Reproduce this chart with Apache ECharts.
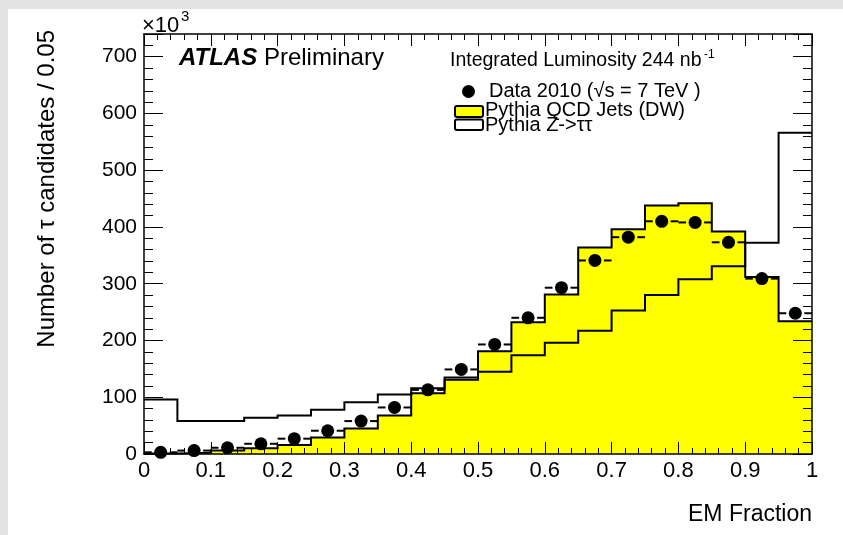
<!DOCTYPE html>
<html>
<head>
<meta charset="utf-8">
<script src="https://cdn.jsdelivr.net/npm/echarts@6/dist/echarts.min.js"></script>
<style>
  html, body { margin: 0; padding: 0; background: #fff; }
  #chart { width: 843px; height: 535px; }
</style>
</head>
<body>
<div id="chart"></div>
<script>
// EM fraction histogram, 20 bins of width 0.05 (counts in units of 10^3)
const binEdges = [0, 0.05, 0.1, 0.15, 0.2, 0.25, 0.3, 0.35, 0.4, 0.45, 0.5,
                  0.55, 0.6, 0.65, 0.7, 0.75, 0.8, 0.85, 0.9, 0.95, 1]
const dataCounts = [3, 6, 11, 18, 27, 41, 58, 82, 113, 149,
                    193, 240, 293, 341, 382, 410, 408, 373, 309, 248]
const qcdCounts = [1, 2, 6, 10, 16, 29, 45, 68, 107, 131,
                   181, 232, 281, 364, 396, 438, 442, 392, 312, 234]
const ztautauCounts = [96, 58, 58, 64, 68, 78, 91, 105, 116, 135,
                       145, 174, 196, 217, 253, 280, 308, 331, 372, 566]

const FONT = '"Liberation Sans", Arial, Helvetica, sans-serif'

// step points: value of bin i starts at its low edge, last bin closed at x = 1
function stepPoints(counts) {
    return binEdges.map((e, i) => [e, counts[Math.min(i, counts.length - 1)]])
}

function label(x, y, text, size, extra) {
    return {
        type: 'text', x: x, y: y,
        style: Object.assign({ text: text, fontSize: size, fontFamily: FONT, fill: '#000',
                               align: 'left', verticalAlign: 'middle' }, extra || {})
    }
}

const axisLineStyle = { color: '#000', width: 1.5 }

let chart = echarts.init(document.getElementById('chart'))
chart.setOption({
    animation: false,
    backgroundColor: '#e3e3e3',
    grid: { left: 144, right: 31, top: 34, bottom: 81 },
    xAxis: [
        {
            type: 'value', min: 0, max: 1, interval: 0.1, position: 'bottom', z: 10,
            axisLine: { show: true, onZero: false, lineStyle: axisLineStyle },
            axisTick: { show: true, inside: true, length: 12, lineStyle: { color: '#000', width: 1 } },
            minorTick: { show: true, splitNumber: 5, length: 6, lineStyle: { color: '#000', width: 1 } },
            splitLine: { show: false },
            axisLabel: { show: true, margin: 6, fontSize: 22, fontFamily: FONT, color: '#000',
                         showMinLabel: true, showMaxLabel: true }
        },
        {
            type: 'value', min: 0, max: 1, interval: 0.1, position: 'top', z: 10,
            axisLine: { show: true, onZero: false, lineStyle: axisLineStyle },
            axisTick: { show: true, inside: true, length: 12, lineStyle: { color: '#000', width: 1 } },
            minorTick: { show: true, splitNumber: 5, length: 6, lineStyle: { color: '#000', width: 1 } },
            splitLine: { show: false },
            axisLabel: { show: false }
        }
    ],
    yAxis: [
        {
            type: 'value', min: 0, max: 740, interval: 100, position: 'left', z: 10,
            axisLine: { show: true, onZero: false, lineStyle: axisLineStyle },
            axisTick: { show: true, inside: true, length: 19, lineStyle: { color: '#000', width: 1 } },
            minorTick: { show: true, splitNumber: 5, length: 9, lineStyle: { color: '#000', width: 1 } },
            splitLine: { show: false },
            axisLabel: { show: true, margin: 7, fontSize: 21, fontFamily: FONT, color: '#000',
                         formatter: v => (v % 100 === 0 ? String(v) : '') }
        },
        {
            type: 'value', min: 0, max: 740, interval: 100, position: 'right', z: 10,
            axisLine: { show: true, onZero: false, lineStyle: axisLineStyle },
            axisTick: { show: true, inside: true, length: 19, lineStyle: { color: '#000', width: 1 } },
            minorTick: { show: true, splitNumber: 5, length: 9, lineStyle: { color: '#000', width: 1 } },
            splitLine: { show: false },
            axisLabel: { show: false }
        }
    ],
    series: [
        {
            name: 'Pythia QCD Jets (DW)',
            type: 'line', step: 'end', symbol: 'none', z: 2,
            data: stepPoints(qcdCounts),
            lineStyle: { color: '#000', width: 2, join: 'miter' },
            areaStyle: { color: '#ffff00', opacity: 1 }
        },
        {
            name: 'Pythia Z->ττ',
            type: 'line', step: 'end', symbol: 'none', z: 3,
            data: stepPoints(ztautauCounts),
            lineStyle: { color: '#000', width: 2, join: 'miter' }
        },
        {
            // horizontal bin-width bars around each data point
            name: 'errors',
            type: 'custom', z: 4,
            data: dataCounts.map((v, i) => [binEdges[i], binEdges[i + 1], v]),
            encode: { x: [0, 1], y: 2 },
            renderItem: (params, api) => {
                const lo = api.coord([api.value(0), api.value(2)])
                const hi = api.coord([api.value(1), api.value(2)])
                const mid = (lo[0] + hi[0]) / 2
                const gap = 9
                const st = { stroke: '#000', lineWidth: 2 }
                return {
                    type: 'group',
                    children: [
                        { type: 'line', shape: { x1: lo[0], y1: lo[1], x2: mid - gap, y2: lo[1] }, style: st },
                        { type: 'line', shape: { x1: mid + gap, y1: hi[1], x2: hi[0], y2: hi[1] }, style: st }
                    ]
                }
            }
        },
        {
            name: 'Data 2010',
            type: 'scatter', z: 5,
            symbol: 'circle', symbolSize: 13,
            itemStyle: { color: '#000', opacity: 1 },
            data: dataCounts.map((v, i) => [(binEdges[i] + binEdges[i + 1]) / 2, v])
        }
    ],
    graphic: [
        { type: 'rect', z: -10, shape: { x: 8, y: 9, width: 835, height: 526 }, style: { fill: '#fff' } },
        label(142, 26, '×10', 22),
        label(181, 17, '3', 15),
        {
            type: 'text', x: 47, y: 30, rotation: Math.PI / 2,
            style: {
                text: 'Number of τ candidates / 0.05', fontSize: 24, fontFamily: FONT, fill: '#000',
                align: 'right', verticalAlign: 'middle'
            }
        },
        label(812, 515, 'EM Fraction', 23, { align: 'right' }),
        label(179, 58, '{b|ATLAS} Preliminary', 24, {
            rich: { b: { fontSize: 24, fontFamily: FONT, fontWeight: 'bold', fontStyle: 'italic' } }
        }),
        label(450, 61, 'Integrated Luminosity 244 nb', 19.5),
        label(704, 55, '-1', 12),
        { type: 'circle', shape: { cx: 468.5, cy: 91.5, r: 6.5 }, style: { fill: '#000' } },
        label(489, 91.5, 'Data 2010 (√s = 7 TeV )', 20),
        {
            type: 'rect', shape: { x: 455, y: 106, width: 28, height: 11, r: 2 },
            style: { fill: '#ffff00', stroke: '#000', lineWidth: 2 }
        },
        label(485, 110.5, 'Pythia QCD Jets (DW)', 20),
        {
            type: 'rect', shape: { x: 455, y: 119.5, width: 28, height: 10.5, r: 2 },
            style: { fill: '#fff', stroke: '#000', lineWidth: 2 }
        },
        label(485, 125.5, 'Pythia Z->ττ', 20)
    ]
})
</script>
</body>
</html>
